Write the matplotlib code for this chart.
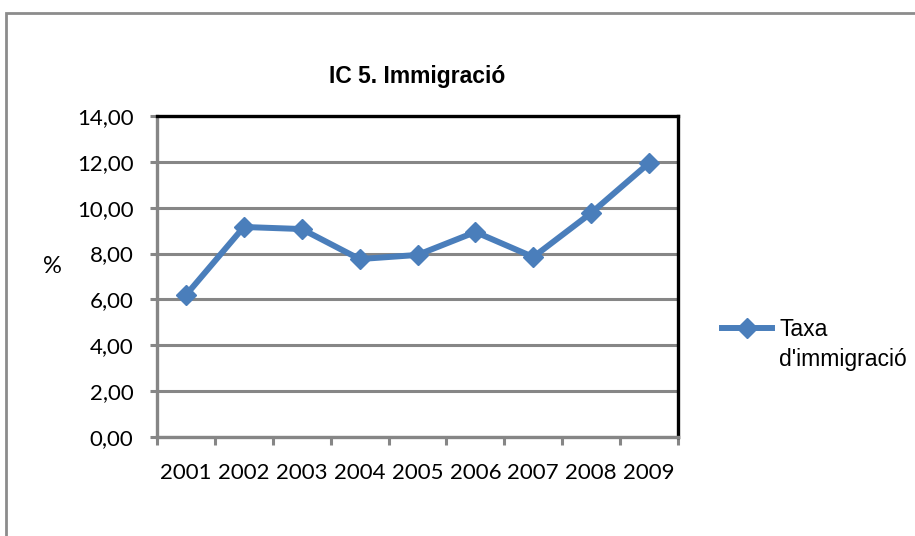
import matplotlib
matplotlib.use("Agg")
import matplotlib.pyplot as plt
import numpy as np
from matplotlib.legend_handler import HandlerLine2D
from matplotlib.patches import Rectangle

# dades del grafic
years = ['2001', '2002', '2003', '2004', '2005', '2006', '2007', '2008', '2009']
taxa = [6.19, 9.16, 9.07, 7.76, 7.94, 8.94, 7.85, 9.77, 11.95]
yticks = [0, 2, 4, 6, 8, 10, 12, 14]
ytick_labels = ['0,00', '2,00', '4,00', '6,00', '8,00', '10,00', '12,00', '14,00']

blue = '#4a7ebb'
grid_gray = '#868686'
leg_spacing = 1.4


class UpHandler(HandlerLine2D):
    # alinea la linia de la llegenda amb la primera linia del text
    def create_artists(self, legend, orig_handle, xdescent, ydescent, width, height, fontsize, trans):
        arts = super().create_artists(legend, orig_handle, xdescent, ydescent, width, height, fontsize, trans)
        for a in arts:
            a.set_ydata(np.asarray(a.get_ydata()) + 0.55 * leg_spacing * fontsize)
        return arts


fig = plt.figure(figsize=(9.15, 5.36), dpi=100)
ax = fig.add_axes([157 / 915, 1 - 437 / 536, 521 / 915, 321 / 536])

x = np.arange(len(years))
ax.plot(x, taxa, color=blue, linewidth=4.3, marker='D', markersize=10.5,
        markerfacecolor=blue, markeredgecolor=blue, label="Taxa\nd'immigració",
        zorder=3, clip_on=False)

ax.set_xlim(-0.5, len(years) - 0.5)
ax.set_ylim(0, 14)
ax.set_yticks(yticks)
ax.set_yticklabels(ytick_labels, fontfamily='Lato', fontsize=16)
ax.set_xticks(x)
ax.set_xticklabels(years, fontfamily='Lato', fontsize=16)
ax.set_xticks(np.arange(-0.5, len(years)), minor=True)
ax.tick_params(axis='x', which='major', length=0, pad=19)
ax.tick_params(axis='x', which='minor', length=6, width=2.2, color=grid_gray)
ax.tick_params(axis='y', length=5, width=2.2, color=grid_gray, pad=12)

ax.yaxis.grid(True, color=grid_gray, linewidth=2.2)
ax.set_axisbelow(True)
for s in ['left', 'bottom']:
    ax.spines[s].set_color(grid_gray)
    ax.spines[s].set_linewidth(2.4)
for s in ['top', 'right']:
    ax.spines[s].set_color('black')
    ax.spines[s].set_linewidth(2.4)

ax.set_ylabel('%', rotation=0, fontfamily='Lato', fontsize=17, ha='center', va='center')
ax.yaxis.set_label_coords(-0.2, 0.53)

ax.set_title('IC 5. Immigració', fontfamily='Liberation Sans', fontweight='bold',
             fontsize=16.5, pad=24)

leg = ax.legend(loc='upper left', bbox_to_anchor=(722 / 915, 1 - 318 / 536),
                bbox_transform=fig.transFigure, frameon=False, borderpad=0,
                borderaxespad=0, prop={'family': 'Liberation Sans', 'size': 16.5},
                handlelength=2.2, handletextpad=0.3,
                handler_map={matplotlib.lines.Line2D: UpHandler(numpoints=1)})
for t in leg.get_texts():
    t.set_linespacing(leg_spacing)

# marc exterior del grafic
fig.patches.append(Rectangle((6 / 915, -0.1), 1.2, 1 - 13 / 536 + 0.1,
                             transform=fig.transFigure, fill=False,
                             edgecolor='#8c8c8c', linewidth=2))

fig.savefig('out.png', dpi=100)
